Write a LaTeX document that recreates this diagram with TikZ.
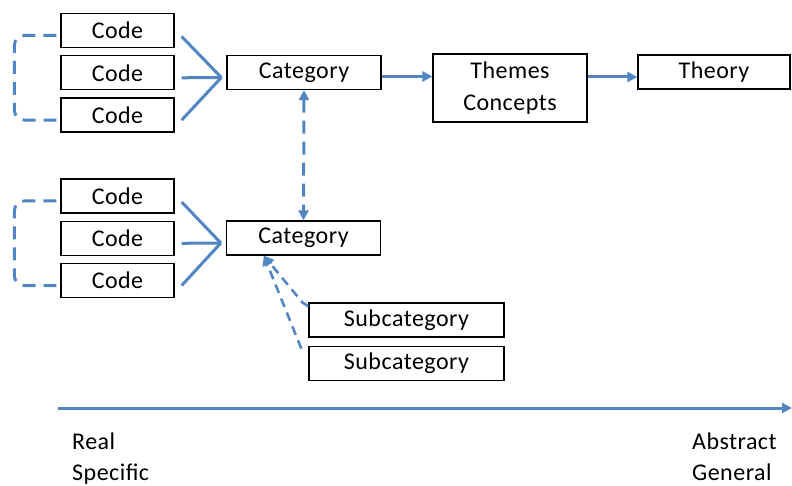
\documentclass[tikz,border=0pt]{standalone}
\usepackage{fontspec}
\setmainfont{Carlito}[LetterSpace=2]
\usetikzlibrary{positioning}
\usetikzlibrary{arrows.meta}
\definecolor{linkblue}{RGB}{82,134,194}
\tikzset{>={Triangle[length=10pt,width=10pt]}}
\tikzset{box/.style={draw,line width=1.3pt,minimum height=34pt,inner sep=0pt,font=\fontsize{24}{32}\selectfont}}
\tikzset{code/.style={box,minimum width=113pt}}
\tikzset{cat/.style={box,minimum width=154pt}}
\tikzset{link/.style={draw=linkblue,line width=3pt}}
\tikzset{dlink/.style={link,dash pattern=on 13pt off 8pt}}
\tikzset{slink/.style={link,line width=2.6pt,dash pattern=on 9pt off 6pt}}
\tikzset{lab/.style={anchor=base west,inner sep=0pt,font=\fontsize{24}{30}\selectfont}}

\begin{document}
\begin{tikzpicture}[x=1pt,y=-1pt]
        \useasboundingbox (0,0) rectangle (792,486);

        \node[code] (c1) at (117.5,30.5) {Code};
        \node[code, below=7pt of c1] (c2) {Code};
        \node[code, below=7pt of c2] (c3) {Code};
        \node[code] (c4) at (117.5,196) {Code};
        \node[code, below=7pt of c4] (c5) {Code};
        \node[code, below=7pt of c5] (c6) {Code};

        \node[cat] (cat1) at (304,72.5) {Category};
        \node[cat] (cat2) at (303.5,238) {Category};
        \node[cat, minimum height=68pt, align=center] (themes) at (510,88) {Themes\\Concepts};
        \node[box, minimum width=152pt] (theory) at (714,72) {Theory};

        \node[box, minimum width=195pt] (sub1) at (406.5,320) {Subcategory};
        \node[box, minimum width=195pt, below=8pt of sub1] (sub2) {Subcategory};

        \coordinate (j1) at ([shift={(-5pt,-5pt)}]cat1.west);
        \coordinate (j2) at ([shift={(-5pt,-5pt)}]cat2.west);

        \draw[link] ([shift={(7pt,-6pt)}]c1.east) -- (j1);
        \draw[link] ([shift={(7pt,-5pt)}]c2.east) -- (j1);
        \draw[link] ([shift={(7pt,-5pt)}]c3.east) -- (j1);
        \draw[link] ([shift={(7pt,-6pt)}]c4.east) -- (j2);
        \draw[link] ([shift={(7pt,-5pt)}]c5.east) -- (j2);
        \draw[link] ([shift={(7pt,-5pt)}]c6.east) -- (j2);

        \draw[dlink, rounded corners=10pt] ([shift={(-4pt,-5pt)}]c1.west)
         -| ([xshift=-46pt]c2.west)
         |- ([shift={(-4pt,-5pt)}]c3.west)
        ;
        \draw[dlink, rounded corners=10pt] ([shift={(-4pt,-5pt)}]c4.west)
         -| ([xshift=-46pt]c5.west)
         |- ([shift={(-4pt,-5pt)}]c6.west)
        ;

        \coordinate (a1) at ([yshift=-4pt]cat1.east);
        \coordinate (a2) at ([yshift=-5pt]theory.west);
        \draw[link,->] (a1) -- (a1 -| themes.west);
        \draw[link,->] (a2 -| themes.east) -- (a2);

        \draw[dlink,<->] (cat1.south) -- (cat2.north);

        \coordinate (s) at ([xshift=38pt]cat2.south west);
        \draw[slink,->] ([yshift=-4pt]sub1.north west) -- ++(-6pt,4pt) -- (s);
        \draw[slink,->] ([xshift=-7pt,yshift=-3pt]sub2.north west) -- (s);

        \coordinate (ax0) at (58,408);
        \coordinate (ax1) at (792,408);
        \draw[link,->] (ax0) -- (ax1);

        \node[lab] (real) at (72,449) {Real};
        \node[lab] (spec) at (72,480) {Specific};
        \node[lab] (abs) at (692,449) {Abstract};
        \node[lab] (gen) at (692,480) {General};
\end{tikzpicture}
\end{document}
